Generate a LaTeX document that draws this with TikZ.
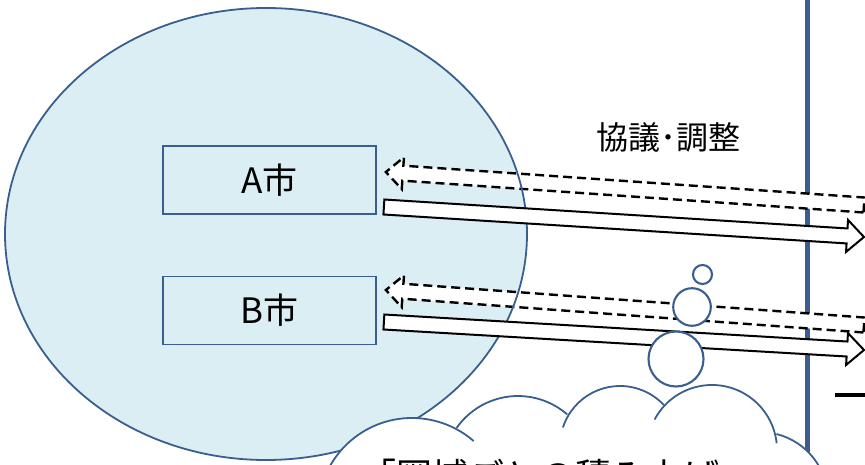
\documentclass[tikz,border=0pt]{standalone}
\usepackage{fontspec}
\setmainfont{Noto Sans CJK JP}
\usetikzlibrary{calc}
\definecolor{ellfill}{HTML}{DAEEF3}
\definecolor{edgeblue}{HTML}{3A5F8E}
\definecolor{barblue}{HTML}{3B5E8F}
\newcommand\blockarr[3]{%
  \coordinate (ba) at ($(#2)!17pt!(#1)$);
  \draw[#3] ($(#1)!7.5pt!90:(#2)$) -- ($(ba)!7.5pt!-90:(#1)$) -- ($(ba)!16pt!-90:(#1)$) -- (#2)
     -- ($(ba)!16pt!90:(#1)$) -- ($(ba)!7.5pt!90:(#1)$) -- ($(#1)!7.5pt!-90:(#2)$) -- cycle;
}
\tikzset{
  citybox/.style={draw=edgeblue, line width=1.8pt, minimum width=213pt, minimum height=68pt,
    inner sep=0pt, font=\fontsize{35}{35}\selectfont},
  solidarr/.style={draw=black, fill=white, line width=2pt, line join=miter},
  dasharr/.style={draw=black, fill=white, line width=2.4pt, dash pattern=on 9pt off 5pt, line join=miter},
  bubble/.style={draw=edgeblue, fill=white, line width=2.1pt},
  cloudline/.style={draw=edgeblue, line width=1.8pt},
}
\begin{document}
\begin{tikzpicture}[x=1pt,y=-1pt]
\useasboundingbox (0,0) rectangle (865,465);
\clip (0,0) rectangle (865,465);
% region ellipse fill
\fill[ellfill] (266,234) ellipse [x radius=261pt, y radius=226pt];
% city boxes
\node[citybox] (A) at (269.5,180) {A市};
\node[citybox] (B) at (269.5,310.5) {B市};
% boundary bar
\draw[barblue, line width=5pt] (807.5,0) -- (807.5,452);
% arrow end points
\coordinate (a1s) at ($(A.east)+(7,27)$);
\coordinate (a1e) at (864,237);
\coordinate (a2s) at (864,205);
\coordinate (a2e) at ($(A.east)+(9,-8)$);
\coordinate (b1s) at ($(B.east)+(7,11.5)$);
\coordinate (b1e) at (864,350);
\coordinate (b2s) at (864,325);
\coordinate (b2e) at ($(B.east)+(9,-20.5)$);
% dashed arrows (toward cities)
\blockarr{a2s}{a2e}{dasharr}
\blockarr{b2s}{b2e}{dasharr}
% ellipse outline
\draw[edgeblue, line width=1.8pt] (266,234) ellipse [x radius=261pt, y radius=226pt];
% solid arrows (from cities)
\blockarr{a1s}{a1e}{solidarr}
\blockarr{b1s}{b1e}{solidarr}
% label
\node[font=\fontsize{32}{32}\selectfont, inner sep=0pt] (lab) at (668,137) {協議･調整};
% thought bubbles
\draw[bubble] (702.5,274.5) circle[radius=9.5pt];
\draw[bubble] (692,307) circle[radius=18.8pt];
\draw[bubble] (676,359) circle[radius=27.5pt];
% cloud
\fill[white] (412,512) circle[radius=94pt] (518,471) circle[radius=75pt] (620,446) circle[radius=60pt]
  (712,450) circle[radius=65pt] (760,500) circle[radius=68pt];
\draw[cloudline] (412,512) ++(165:94pt) arc[start angle=165, end angle=49, radius=94pt];
\draw[cloudline] (518,471) ++(145:75pt) arc[start angle=145, end angle=49, radius=75pt];
\draw[cloudline] (620,446) ++(162:60pt) arc[start angle=162, end angle=43, radius=60pt];
\draw[cloudline] (712,450) ++(152:65pt) arc[start angle=152, end angle=6, radius=65pt];
\draw[cloudline] (760,500) ++(76:68pt) arc[start angle=76, end angle=0, radius=68pt];
\node[anchor=base west, inner sep=0pt, font=\fontsize{36}{36}\selectfont] (ct) at (360,489) {「圏域ごとの積み上げ」};
% fragment at right edge
\draw[black, line width=4pt] (835,395) -- (866,395);
\end{tikzpicture}
\end{document}
